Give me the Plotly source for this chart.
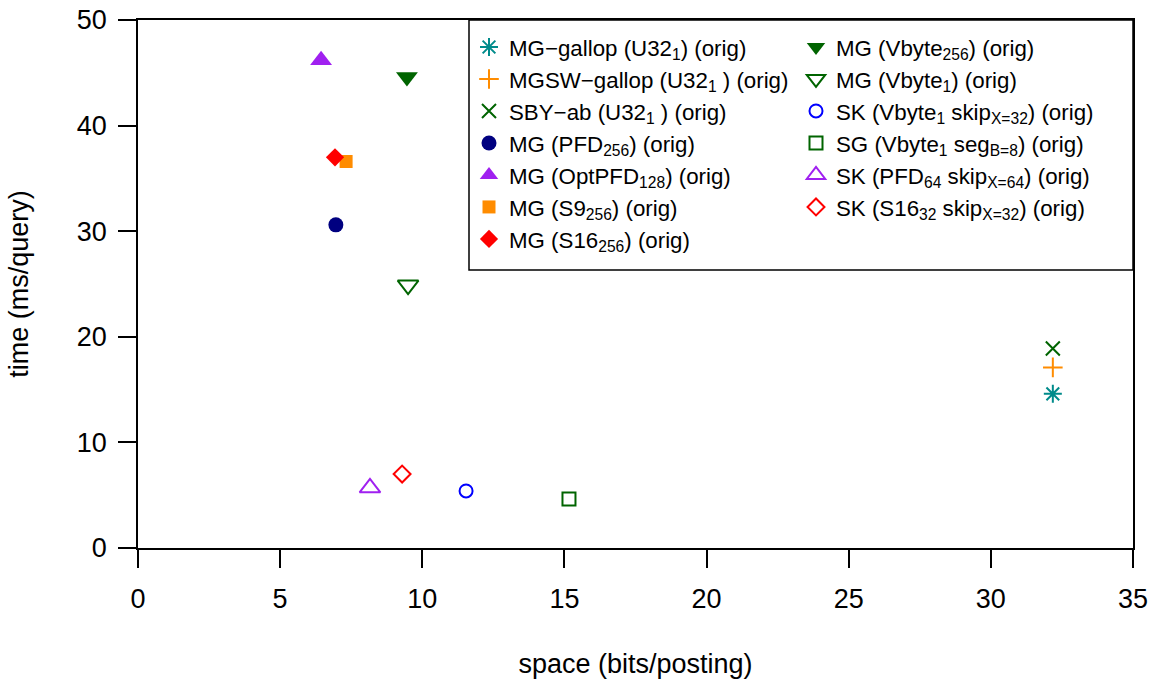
import plotly.graph_objects as go

# ---- data ----
names = [
    "MG−gallop (U32<sub>1</sub>) (orig)",
    "MGSW−gallop (U32<sub>1</sub> ) (orig)",
    "SBY−ab (U32<sub>1</sub> ) (orig)",
    "MG (PFD<sub>256</sub>) (orig)",
    "MG (OptPFD<sub>128</sub>) (orig)",
    "MG (S9<sub>256</sub>) (orig)",
    "MG (S16<sub>256</sub>) (orig)",
    "MG (Vbyte<sub>256</sub>) (orig)",
    "MG (Vbyte<sub>1</sub>) (orig)",
    "SK (Vbyte<sub>1</sub> skip<sub>X=32</sub>) (orig)",
    "SG (Vbyte<sub>1</sub> seg<sub>B=8</sub>) (orig)",
    "SK (PFD<sub>64</sub> skip<sub>X=64</sub>) (orig)",
    "SK (S16<sub>32</sub> skip<sub>X=32</sub>) (orig)",
]
space = [32.18, 32.18, 32.18, 6.96, 6.44, 7.32, 6.93, 9.46, 9.50, 11.54, 15.16, 8.16, 9.29]
time = [14.6, 17.1, 18.9, 30.6, 46.2, 36.6, 37.0, 44.6, 24.9, 5.4, 4.65, 5.7, 7.0]
symbols = ["asterisk-open", "cross-thin-open", "x-thin-open", "circle", "triangle-up",
           "square", "diamond", "triangle-down", "triangle-down-open", "circle-open",
           "square-open", "triangle-up-open", "diamond-open"]
colors = ["#008B8B", "#FF8C00", "#006400", "#000080", "#A020F0", "#FF8C00", "#FF0000",
          "#006400", "#006400", "#0000FF", "#006400", "#A020F0", "#FF0000"]
sizes = [15, 14, 14, 15, 19, 13, 14, 19, 18, 13, 13, 18, 13]
legend_ids = ["legend"] * 7 + ["legend2"] * 6

x_ticks = [0, 5, 10, 15, 20, 25, 30, 35]
y_ticks = [0, 10, 20, 30, 40, 50]

FONT = "Liberation Sans, Arial, sans-serif"

fig = go.Figure()
for i, (n, xv, yv, s, c, sz, lg) in enumerate(zip(names, space, time, symbols, colors, sizes, legend_ids)):
    is_line = s.endswith("-open")
    fig.add_trace(go.Scatter(
        x=[xv], y=[yv], mode="markers", name=n, legend=lg, legendgroup=f"g{i}",
        marker=dict(symbol=s, size=sz, color=c,
                    line=dict(color=c, width=2 if is_line else 0)),
    ))

W, H = 1151, 679
L, R, T, B = 138, 18, 20, 131
pw, ph = W - L - R, H - T - B

def px_x(p):
    return (p - L) / pw

def px_y(p):
    return (H - B - p) / ph

leg_font = dict(family=FONT, size=22.3, color="black")
fig.update_layout(
    width=W, height=H,
    margin=dict(l=L, r=R, t=T, b=B, autoexpand=False),
    paper_bgcolor="white", plot_bgcolor="white",
    font=dict(family=FONT, size=27, color="black"),
    showlegend=True,
    legend=dict(x=px_x(469), y=px_y(26), xanchor="left", yanchor="top",
                bgcolor="rgba(0,0,0,0)", borderwidth=0, tracegroupgap=0,
                font=leg_font),
    legend2=dict(x=px_x(796), y=px_y(26), xanchor="left", yanchor="top",
                 bgcolor="rgba(0,0,0,0)", borderwidth=0, tracegroupgap=0,
                 font=leg_font),
    xaxis=dict(range=[0, 35], tickvals=x_ticks, ticktext=[str(v) for v in x_ticks],
               showgrid=False, zeroline=False, showline=True, linecolor="black",
               linewidth=1.5, mirror=True, ticks="outside", ticklen=18, tickwidth=1.5,
               tickcolor="black", ticklabelstandoff=8, automargin=False,
               title=dict(text="space (bits/posting)", standoff=43,
                          font=dict(family=FONT, size=27))),
    yaxis=dict(range=[0, 50], tickvals=y_ticks, ticktext=[str(v) for v in y_ticks],
               showgrid=False, zeroline=False, showline=True, linecolor="black",
               linewidth=1.5, mirror=True, ticks="outside", ticklen=18, tickwidth=1.5,
               tickcolor="black", ticklabelstandoff=6, automargin=False,
               title=dict(text="time (ms/query)", standoff=40,
                          font=dict(family=FONT, size=27))),
    shapes=[dict(type="rect", xref="paper", yref="paper",
                 x0=px_x(469), x1=1, y0=px_y(270), y1=1,
                 line=dict(color="black", width=1.5), fillcolor="rgba(0,0,0,0)",
                 layer="above")],
)

fig.write_html("out.html")
